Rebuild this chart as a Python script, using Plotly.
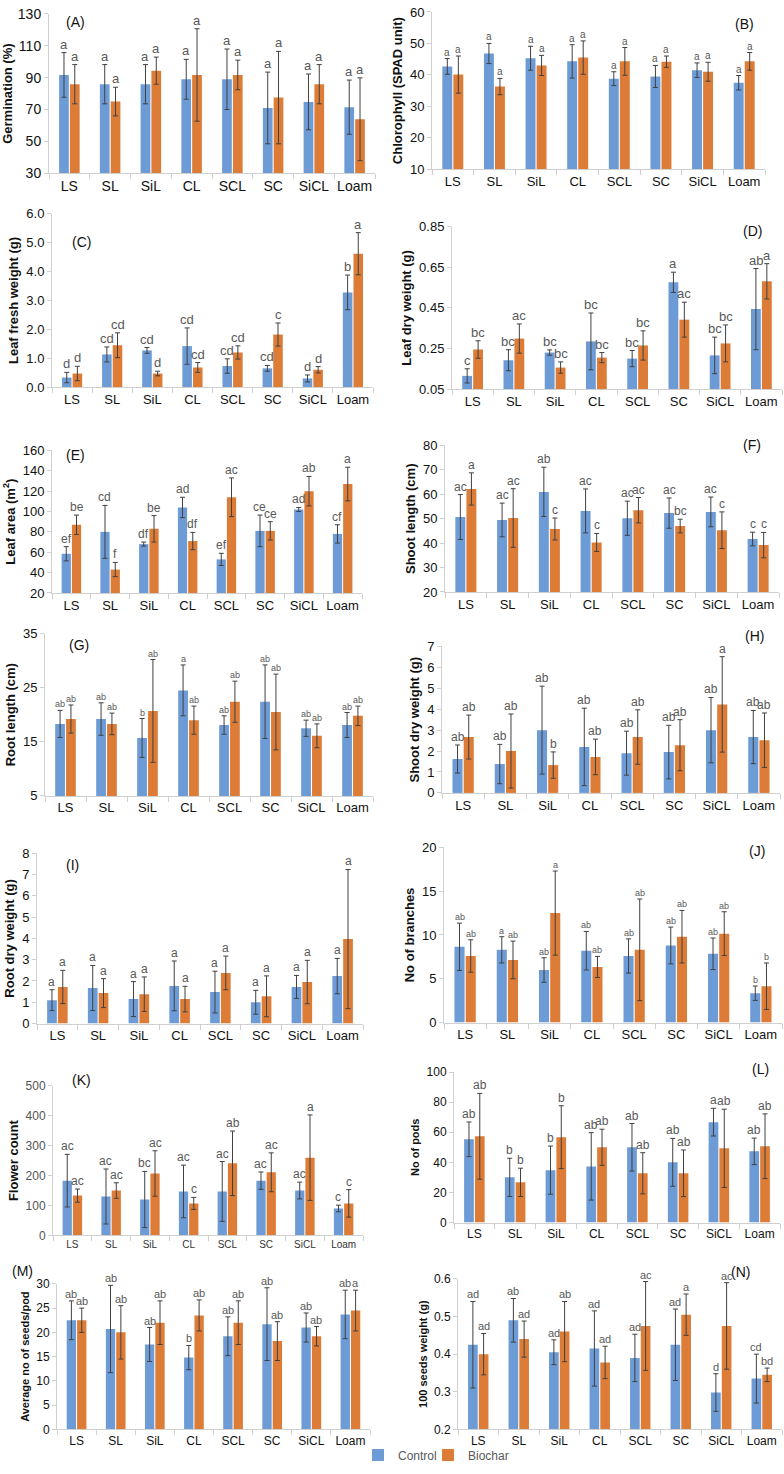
import plotly.graph_objects as go

cats = ["LS", "SL", "SiL", "CL", "SCL", "SC", "SiCL", "Loam"]

# (A) Germination (%)
A_ctrl = [91.7, 85.9, 85.9, 89.0, 89.0, 71.0, 74.8, 71.5]
A_ctrl_sd = [14.0, 12.3, 12.3, 12.5, 19.0, 22.5, 17.5, 17.0]
A_bio = [85.9, 75.0, 94.4, 91.7, 91.7, 77.5, 85.9, 63.9]
A_bio_sd = [12.3, 9.0, 8.5, 29.0, 9.3, 29.0, 12.3, 26.0]
A_ctrl_let = ["a"] * 8
A_bio_let = ["a"] * 8

# (B) Chlorophyll (SPAD unit)
B_ctrl = [42.7, 46.8, 45.3, 44.3, 38.8, 39.5, 41.5, 37.5]
B_ctrl_sd = [2.5, 3.2, 3.8, 5.3, 2.2, 3.5, 2.3, 2.3]
B_bio = [40.1, 36.3, 43.0, 45.5, 44.3, 44.2, 41.0, 44.3]
B_bio_sd = [5.9, 2.6, 3.2, 5.3, 4.4, 1.8, 3.0, 2.8]
B_ctrl_let = ["a"] * 8
B_bio_let = ["a"] * 8

# (C) Leaf fresh weight (g)
C_ctrl = [0.33, 1.13, 1.27, 1.42, 0.73, 0.65, 0.30, 3.28]
C_ctrl_sd = [0.18, 0.26, 0.10, 0.63, 0.25, 0.10, 0.12, 0.60]
C_bio = [0.47, 1.45, 0.47, 0.68, 1.20, 1.82, 0.60, 4.62]
C_bio_sd = [0.25, 0.43, 0.08, 0.17, 0.23, 0.40, 0.11, 0.73]
C_ctrl_let = ["d", "cd", "cd", "cd", "cd", "cd", "d", "b"]
C_bio_let = ["d", "cd", "d", "cd", "cd", "c", "d", "a"]

# (D) Leaf dry weight (g)
D_ctrl = [0.115, 0.192, 0.230, 0.285, 0.200, 0.576, 0.216, 0.444]
D_ctrl_sd = [0.035, 0.052, 0.013, 0.140, 0.040, 0.050, 0.090, 0.200]
D_bio = [0.245, 0.299, 0.156, 0.205, 0.265, 0.392, 0.275, 0.581]
D_bio_sd = [0.043, 0.072, 0.028, 0.025, 0.072, 0.086, 0.091, 0.087]
D_ctrl_let = ["c", "bc", "bc", "bc", "bc", "a", "bc", "ab"]
D_bio_let = ["bc", "ac", "bc", "bc", "bc", "ac", "bc", "a"]

# (E) Leaf area (m2)
E_ctrl = [58.5, 80, 68, 104, 53, 81, 102, 78]
E_ctrl_sd = [7, 26, 2, 10, 6, 15.5, 2, 9]
E_bio = [87, 43, 83, 71, 114, 81, 120, 127]
E_bio_sd = [9.5, 7, 13, 8.5, 19, 9, 14.5, 16.5]
E_ctrl_let = ["ef", "cd", "df", "ad", "ef", "ce", "ad", "cf"]
E_bio_let = ["be", "f", "be", "df", "ac", "ce", "ab", "a"]

# (F) Shoot length (cm)
F_ctrl = [50.7, 49.5, 61.0, 53.2, 50.2, 52.3, 52.8, 41.7]
F_ctrl_sd = [9.2, 6.9, 10.1, 9.0, 7.0, 6.2, 6.1, 2.8]
F_bio = [62.2, 50.3, 45.8, 40.3, 53.5, 47.0, 45.3, 39.2]
F_bio_sd = [6.6, 12.0, 4.5, 3.7, 5.2, 2.8, 7.5, 5.2]
F_ctrl_let = ["ac", "ac", "ab", "ac", "ac", "ac", "ac", "c"]
F_bio_let = ["a", "ac", "c", "c", "ac", "bc", "c", "c"]

# (G) Root length (cm)
G_ctrl = [18.3, 19.2, 15.7, 24.5, 18.1, 22.4, 17.5, 18.1]
G_ctrl_sd = [2.5, 3.0, 3.6, 4.7, 1.7, 6.8, 1.5, 2.3]
G_bio = [19.2, 18.3, 20.7, 19.0, 22.4, 20.5, 16.1, 19.8]
G_bio_sd = [2.6, 2.0, 9.5, 2.6, 3.8, 7.0, 2.2, 1.8]
G_ctrl_let = ["ab", "ab", "b", "a", "ab", "ab", "ab", "ab"]
G_bio_let = ["ab"] * 8

# (H) Shoot dry weight (g)
H_ctrl = [1.62, 1.38, 3.00, 2.20, 1.90, 1.95, 3.00, 2.67]
H_ctrl_sd = [0.67, 0.94, 2.10, 1.85, 1.05, 1.28, 1.56, 1.27]
H_bio = [2.67, 2.00, 1.33, 1.72, 2.67, 2.28, 4.23, 2.52]
H_bio_sd = [1.05, 1.77, 0.63, 0.85, 1.30, 1.22, 2.28, 1.30]
H_ctrl_let = ["ab"] * 8
H_bio_let = ["ab", "ab", "b", "ab", "ab", "ab", "a", "ab"]

# (I) Root dry weight (g)
I_ctrl = [1.10, 1.67, 1.15, 1.77, 1.48, 1.00, 1.72, 2.23]
I_ctrl_sd = [0.49, 1.06, 0.82, 1.17, 0.98, 0.56, 0.54, 0.83]
I_bio = [1.72, 1.43, 1.38, 1.15, 2.38, 1.28, 1.95, 3.97]
I_bio_sd = [0.78, 0.68, 0.81, 0.60, 0.79, 0.96, 1.02, 3.27]
I_ctrl_let = ["a"] * 8
I_bio_let = ["a"] * 8

# (J) No of branches
J_ctrl = [8.65, 8.30, 6.00, 8.20, 7.60, 8.80, 7.85, 3.35]
J_ctrl_sd = [2.7, 1.5, 1.4, 2.2, 1.95, 2.1, 1.8, 0.82]
J_bio = [7.60, 7.15, 12.50, 6.35, 8.30, 9.80, 10.15, 4.15]
J_bio_sd = [1.85, 2.15, 4.8, 1.2, 5.8, 3.0, 2.5, 2.65]
J_ctrl_let = ["ab", "a", "ab", "ab", "ab", "ab", "ab", "b"]
J_bio_let = ["ab", "ab", "a", "ab", "ab", "ab", "ab", "b"]

# (K) Flower count
K_ctrl = [183, 130, 120, 147, 147, 183, 150, 90]
K_ctrl_sd = [88, 92, 94, 88, 100, 29, 28, 11]
K_bio = [133, 150, 207, 107, 241, 211, 260, 107]
K_bio_sd = [22, 26, 76, 20, 108, 65, 143, 46]
K_ctrl_let = ["ac", "ac", "bc", "ac", "ac", "ac", "ac", "c"]
K_bio_let = ["ac", "ac", "ac", "c", "ab", "ac", "a", "c"]

# (L) No of pods
L_ctrl = [55.3, 30.0, 34.8, 37.3, 50.0, 40.0, 66.7, 47.3]
L_ctrl_sd = [11.5, 12.7, 16.0, 22.4, 15.8, 15.9, 9.2, 8.8]
L_bio = [57.3, 26.7, 56.7, 50.0, 32.7, 32.7, 49.3, 50.7]
L_bio_sd = [28.5, 9.4, 20.9, 12.0, 13.7, 15.5, 26.0, 21.5]
L_ctrl_let = ["ab", "b", "b", "ab", "ab", "ab", "a", "ab"]
L_bio_let = ["ab", "b", "b", "ab", "ab", "ab", "ab", "ab"]

# (M) Average no of seeds/pod
M_ctrl = [22.5, 20.7, 17.5, 14.8, 19.2, 21.7, 21.0, 23.7]
M_ctrl_sd = [4.0, 9.0, 3.5, 2.5, 4.0, 7.5, 3.0, 5.0]
M_bio = [22.5, 20.0, 22.0, 23.5, 22.0, 18.2, 19.2, 24.5]
M_bio_sd = [2.5, 5.5, 4.5, 3.2, 4.5, 4.0, 2.0, 4.2]
M_ctrl_let = ["ab", "ab", "ab", "b", "ab", "ab", "ab", "ab"]
M_bio_let = ["ab", "ab", "ab", "ab", "ab", "ab", "ab", "a"]

# (N) 100 seeds weight (g)
N_ctrl = [0.425, 0.490, 0.405, 0.415, 0.390, 0.425, 0.298, 0.335]
N_ctrl_sd = [0.115, 0.058, 0.033, 0.100, 0.063, 0.095, 0.050, 0.065]
N_bio = [0.400, 0.440, 0.460, 0.378, 0.475, 0.505, 0.475, 0.345]
N_bio_sd = [0.055, 0.048, 0.080, 0.043, 0.118, 0.055, 0.115, 0.018]
N_ctrl_let = ["ad", "ab", "ad", "ad", "ad", "ad", "d", "cd"]
N_bio_let = ["ad", "ad", "ab", "ad", "ac", "a", "ac", "bd"]

data = {
    "A": (A_ctrl, A_ctrl_sd, A_bio, A_bio_sd, A_ctrl_let, A_bio_let),
    "B": (B_ctrl, B_ctrl_sd, B_bio, B_bio_sd, B_ctrl_let, B_bio_let),
    "C": (C_ctrl, C_ctrl_sd, C_bio, C_bio_sd, C_ctrl_let, C_bio_let),
    "D": (D_ctrl, D_ctrl_sd, D_bio, D_bio_sd, D_ctrl_let, D_bio_let),
    "E": (E_ctrl, E_ctrl_sd, E_bio, E_bio_sd, E_ctrl_let, E_bio_let),
    "F": (F_ctrl, F_ctrl_sd, F_bio, F_bio_sd, F_ctrl_let, F_bio_let),
    "G": (G_ctrl, G_ctrl_sd, G_bio, G_bio_sd, G_ctrl_let, G_bio_let),
    "H": (H_ctrl, H_ctrl_sd, H_bio, H_bio_sd, H_ctrl_let, H_bio_let),
    "I": (I_ctrl, I_ctrl_sd, I_bio, I_bio_sd, I_ctrl_let, I_bio_let),
    "J": (J_ctrl, J_ctrl_sd, J_bio, J_bio_sd, J_ctrl_let, J_bio_let),
    "K": (K_ctrl, K_ctrl_sd, K_bio, K_bio_sd, K_ctrl_let, K_bio_let),
    "L": (L_ctrl, L_ctrl_sd, L_bio, L_bio_sd, L_ctrl_let, L_bio_let),
    "M": (M_ctrl, M_ctrl_sd, M_bio, M_bio_sd, M_ctrl_let, M_bio_let),
    "N": (N_ctrl, N_ctrl_sd, N_bio, N_bio_sd, N_ctrl_let, N_bio_let),
}

# panel layout: plot area pixels x0,x1,ytop,ybot ; range ; ticks ; title ; label pos ; font sizes
W, H = 784, 1474
panels = [
    dict(k="A", x0=49, x1=375, yt=7, yb=168, rng=[30, 130], tv=[30, 50, 70, 90, 110, 130], fmt=None,
         title="Germination (%)", lab=(75, 15), ls=13, ts=14, xs=14, tts=13),
    dict(k="B", x0=432, x1=765, yt=5, yb=164, rng=[10, 60], tv=[10, 20, 30, 40, 50, 60], fmt=None,
         title="Chlorophyll (SPAD unit)", lab=(744, 17), ls=10, ts=13, xs=13, tts=13),
    dict(k="C", x0=52, x1=373, yt=209, yb=384, rng=[0, 6], tv=[0, 1, 2, 3, 4, 5, 6], fmt=".1f",
         title="Leaf fresh weight (g)", lab=(81, 237), ls=13, ts=13, xs=13, tts=13),
    dict(k="D", x0=452, x1=782, yt=222, yb=386, rng=[0.05, 0.85], tv=[0.05, 0.25, 0.45, 0.65, 0.85], fmt=".2f",
         title="Leaf dry weight (g)", lab=(752, 226), ls=13, ts=13, xs=13, tts=13),
    dict(k="E", x0=52, x1=362, yt=448, yb=592, rng=[20, 160], tv=[20, 40, 60, 80, 100, 120, 140, 160], fmt=None,
         title="Leaf area (m<sup>2</sup>)", lab=(75, 453), ls=12, ts=13, xs=13, tts=13),
    dict(k="F", x0=445, x1=779, yt=443, yb=591, rng=[20, 80], tv=[20, 30, 40, 50, 60, 70, 80], fmt=None,
         title="Shoot length (cm)", lab=(752, 443), ls=12, ts=13, xs=13, tts=13),
    dict(k="G", x0=45, x1=373, yt=633, yb=797, rng=[5, 35], tv=[5, 15, 25, 35], fmt=None,
         title="Root length (cm)", lab=(79, 645), ls=9, ts=13, xs=13, tts=13),
    dict(k="H", x0=442, x1=780, yt=646, yb=794, rng=[0, 7], tv=[0, 1, 2, 3, 4, 5, 6, 7], fmt=None,
         title="Shoot dry weight (g)", lab=(754, 635), ls=12, ts=13, xs=13, tts=13),
    dict(k="I", x0=37, x1=363, yt=855, yb=1027, rng=[0, 8], tv=[0, 1, 2, 3, 4, 5, 6, 7, 8], fmt=None,
         title="Root dry weight (g)", lab=(72, 867), ls=12, ts=13, xs=13, tts=13),
    dict(k="J", x0=444, x1=782, yt=849, yb=1026, rng=[0, 20], tv=[0, 5, 10, 15, 20], fmt=None,
         title="No of branches", lab=(757, 853), ls=9, ts=13, xs=13, tts=13),
    dict(k="K", x0=53, x1=363, yt=1090, yb=1241, rng=[0, 500], tv=[0, 100, 200, 300, 400, 500], fmt=None,
         title="Flower count", lab=(81, 1084), ls=12, ts=12, xs=10, tts=13),
    dict(k="L", x0=454, x1=780, yt=1076, yb=1228, rng=[0, 100], tv=[0, 20, 40, 60, 80, 100], fmt=None,
         title="No of pods", lab=(760, 1073), ls=12, ts=12, xs=12, tts=11),
    dict(k="M", x0=57, x1=370, yt=1290, yb=1437, rng=[0, 30], tv=[0, 5, 10, 15, 20, 25, 30], fmt=None,
         title="Average no of seeds/pod", lab=(22, 1277), ls=11, ts=12, xs=12, tts=11),
    dict(k="N", x0=458, x1=782, yt=1285, yb=1437, rng=[0.2, 0.6], tv=[0.2, 0.3, 0.4, 0.5, 0.6], fmt=".1f",
         title="100 seeds weight (g)", lab=(740, 1278), ls=11, ts=12, xs=12, tts=11),
]

BLUE = "#6C9BD6"
ORANGE = "#DD7C37"
ERR = "#404040"
LETC = "#595959"
FONT = "Liberation Sans, Arial, sans-serif"
BARGAP = 0.47

fig = go.Figure()
layout = {}
annotations = []

for i, p in enumerate(panels):
    n = i + 1
    xa = "x" if n == 1 else f"x{n}"
    ya = "y" if n == 1 else f"y{n}"
    ctrl, ctrl_sd, bio, bio_sd, cl, bl = data[p["k"]]
    fig.add_trace(go.Bar(
        x=cats, y=ctrl, name="Control", marker=dict(color=BLUE, line=dict(width=0)),
        error_y=dict(type="data", array=ctrl_sd, visible=True, color=ERR, thickness=1, width=2.5),
        xaxis=xa, yaxis=ya, showlegend=(n == 1), legend="legend", offsetgroup="c"))
    fig.add_trace(go.Bar(
        x=cats, y=bio, name="Biochar", marker=dict(color=ORANGE, line=dict(width=0)),
        error_y=dict(type="data", array=bio_sd, visible=True, color=ERR, thickness=1, width=2.5),
        xaxis=xa, yaxis=ya, showlegend=(n == 1), legend="legend2", offsetgroup="b"))

    cw = (p["x1"] - p["x0"]) / 8.0
    off = (1 - BARGAP) * cw / 4.0
    for j, c in enumerate(cats):
        for vals, sds, lets, sh in ((ctrl, ctrl_sd, cl, -off), (bio, bio_sd, bl, off)):
            annotations.append(dict(
                x=c, y=vals[j] + sds[j], xref=xa, yref=ya, text=lets[j], showarrow=False,
                xshift=sh, yshift=-1, yanchor="bottom", xanchor="center",
                font=dict(size=p["ls"], color=LETC, family=FONT)))
    annotations.append(dict(
        x=p["lab"][0] / W, y=1 - p["lab"][1] / H, xref="paper", yref="paper",
        text=f"({p['k']})", showarrow=False, xanchor="center", yanchor="middle",
        font=dict(size=14, color="#111111", family=FONT)))

    xkey = "xaxis" if n == 1 else f"xaxis{n}"
    ykey = "yaxis" if n == 1 else f"yaxis{n}"
    layout[xkey] = dict(
        domain=[p["x0"] / W, p["x1"] / W], anchor=ya, type="category",
        showline=True, linecolor="#D0D0D0", linewidth=1, ticks="outside", tickson="boundaries",
        ticklen=5, tickcolor="#D0D0D0", showgrid=False, zeroline=False, tickangle=0,
        tickfont=dict(size=p["xs"], color="#111111" if p["k"] != "K" else "#333333", family=FONT),
        fixedrange=True)
    yd = dict(
        domain=[1 - p["yb"] / H, 1 - p["yt"] / H], anchor=xa, range=p["rng"],
        tickvals=p["tv"], showline=True, linecolor="#D0D0D0", linewidth=1, ticks="outside",
        ticklen=4, tickcolor="#D0D0D0", showgrid=False, zeroline=False,
        tickfont=dict(size=p["ts"], color="#111111" if p["k"] != "K" else "#555555", family=FONT),
        title=dict(text=f"<b>{p['title']}</b>", font=dict(size=p["tts"], color="#111111", family=FONT),
                   standoff=4),
        fixedrange=True)
    if p["fmt"]:
        yd["tickformat"] = p["fmt"]
    layout[ykey] = yd

leg_common = dict(orientation="h", xanchor="left", yanchor="middle", y=1 - 1463 / H,
                  font=dict(size=12, color="#595959", family=FONT), itemwidth=30,
                  bgcolor="rgba(0,0,0,0)")

fig.update_layout(
    width=W, height=H, margin=dict(l=0, r=0, t=0, b=0, pad=0),
    paper_bgcolor="white", plot_bgcolor="white",
    barmode="group", bargap=BARGAP, bargroupgap=0.1,
    font=dict(family=FONT),
    legend=dict(x=358 / W, **leg_common),
    legend2=dict(x=428 / W, **leg_common),
    annotations=annotations,
    **layout,
)

fig.write_html("out.html")
